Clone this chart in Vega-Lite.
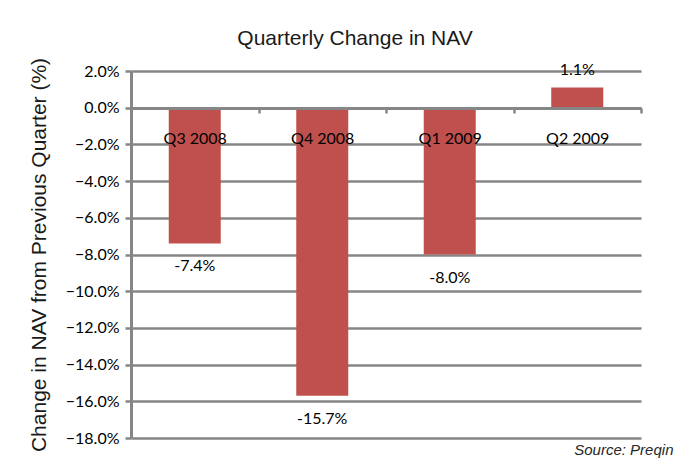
{
  "$schema": "https://vega.github.io/schema/vega-lite/v6.json",
  "width": 510,
  "height": 367,
  "autosize": {"type": "none"},
  "padding": {"left": 131, "top": 71, "right": 46, "bottom": 21},
  "background": "white",
  "title": {
    "text": "Quarterly Change in NAV",
    "font": "Liberation Sans",
    "fontSize": 21,
    "fontWeight": "normal",
    "color": "#1a1a1a",
    "anchor": "middle",
    "dx": -31,
    "offset": 8
  },
  "data": {
    "values": [
      {"quarter": "Q3 2008", "value": -7.4, "label": "-7.4%"},
      {"quarter": "Q4 2008", "value": -15.7, "label": "-15.7%"},
      {"quarter": "Q1 2009", "value": -8.0, "label": "-8.0%"},
      {"quarter": "Q2 2009", "value": 1.1, "label": "1.1%"}
    ]
  },
  "encoding": {
    "x": {
      "field": "quarter",
      "type": "nominal",
      "sort": null,
      "scale": {"paddingInner": 0, "paddingOuter": 0},
      "axis": {
        "title": null,
        "orient": "bottom",
        "offset": -330,
        "labelAngle": 0,
        "labelFont": "Lato",
        "labelFontSize": 16,
        "labelColor": "#000000",
        "labelPadding": 17,
        "domainColor": "#868686",
        "domainWidth": 3,
        "tickColor": "#868686",
        "tickWidth": 2.5,
        "tickSize": 5,
        "tickBand": "extent",
        "grid": false,
        "zindex": 1
      }
    },
    "y": {
      "field": "value",
      "type": "quantitative",
      "scale": {"domain": [-18, 2], "nice": false, "zero": false},
      "axis": {
        "title": "Change in NAV from Previous Quarter (%)",
        "titleFont": "Liberation Sans",
        "titleFontSize": 21,
        "titleFontWeight": "normal",
        "titleColor": "#1a1a1a",
        "titlePadding": 16,
        "values": [-18, -16, -14, -12, -10, -8, -6, -4, -2, 0, 2],
        "labelExpr": "format(datum.value, '.1f') + '%'",
        "labelFont": "Lato",
        "labelFontSize": 16,
        "labelColor": "#000000",
        "labelPadding": 6,
        "domainColor": "#868686",
        "domainWidth": 3,
        "tickColor": "#868686",
        "tickWidth": 2.5,
        "tickSize": 6,
        "grid": true,
        "gridColor": "#868686",
        "gridWidth": 2.5,
        "gridOpacity": 1
      }
    }
  },
  "layer": [
    {
      "mark": {"type": "bar", "size": 52, "color": "#C0504D"}
    },
    {
      "transform": [{"filter": "datum.value < 0"}],
      "mark": {"type": "text", "font": "Lato", "fontSize": 16, "color": "#000000", "baseline": "middle", "dy": 23},
      "encoding": {"text": {"field": "label"}}
    },
    {
      "transform": [{"filter": "datum.value >= 0"}],
      "mark": {"type": "text", "font": "Lato", "fontSize": 16, "color": "#000000", "baseline": "middle", "dy": -18},
      "encoding": {"text": {"field": "label"}}
    },
    {
      "data": {"values": [{"quarter": "Q2 2009", "value": -18, "note": "Source: Preqin"}]},
      "mark": {"type": "text", "font": "Liberation Sans", "fontSize": 15, "fontStyle": "italic", "color": "#262626", "align": "left", "baseline": "middle", "dx": -3, "dy": 12},
      "encoding": {
        "text": {"field": "note"}
      }
    }
  ],
  "config": {
    "view": {"stroke": null}
  }
}
